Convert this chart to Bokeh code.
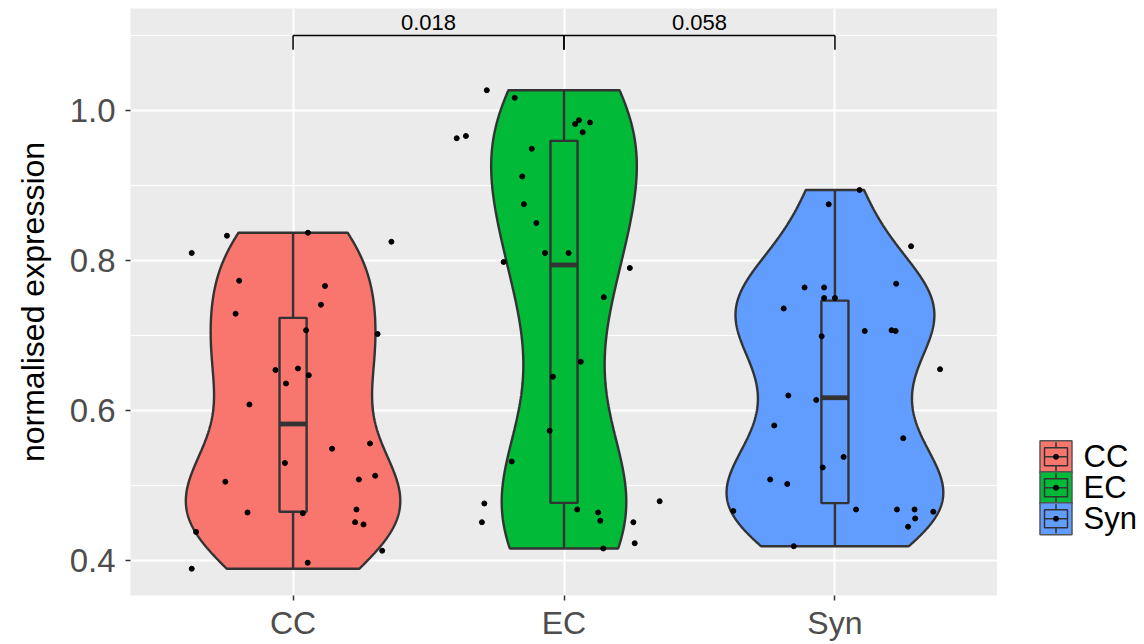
import numpy as np
from bokeh.plotting import figure
from bokeh.models import Range1d, FixedTicker, PrintfTickFormatter
from bokeh.layouts import row
from bokeh.embed import file_html
from bokeh.resources import INLINE
from bokeh.core.properties import value

# ---------------- data ----------------
categories = ["CC", "EC", "Syn"]
colors = ["#F8766D", "#00BA38", "#619CFF"]

cc_values = [0.810, 0.833, 0.837, 0.825, 0.773, 0.766, 0.741, 0.729, 0.707, 0.702,
             0.654, 0.656, 0.647, 0.636, 0.608, 0.549, 0.556, 0.530, 0.505, 0.508,
             0.513, 0.464, 0.463, 0.468, 0.451, 0.448, 0.438, 0.413, 0.397, 0.389]
cc_jitter = [-0.374, -0.244, 0.055, 0.363, -0.199, 0.118, 0.103, -0.212, 0.048, 0.312,
             -0.065, 0.018, 0.058, -0.026, -0.161, 0.144, 0.284, -0.030, -0.250, 0.243,
             0.303, -0.168, 0.036, 0.234, 0.229, 0.260, -0.358, 0.329, 0.054, -0.374]

ec_values = [1.027, 1.017, 0.963, 0.966, 0.949, 0.912, 0.875, 0.850, 0.810, 0.810,
             0.798, 0.982, 0.987, 0.984, 0.971, 0.790, 0.751, 0.645, 0.573, 0.532,
             0.476, 0.451, 0.665, 0.468, 0.464, 0.453, 0.416, 0.451, 0.423, 0.479]
ec_jitter = [-0.285, -0.182, -0.396, -0.362, -0.119, -0.154, -0.148, -0.102, -0.070, 0.017,
             -0.223, 0.041, 0.055, 0.096, 0.069, 0.243, 0.147, -0.041, -0.053, -0.193,
             -0.294, -0.303, 0.062, 0.049, 0.126, 0.134, 0.145, 0.256, 0.261, 0.353]

syn_values = [0.894, 0.875, 0.819, 0.764, 0.764, 0.769, 0.750, 0.750, 0.736, 0.699,
              0.706, 0.707, 0.706, 0.655, 0.620, 0.614, 0.580, 0.563, 0.538, 0.524,
              0.508, 0.502, 0.466, 0.468, 0.468, 0.468, 0.456, 0.445, 0.465, 0.419]
syn_jitter = [0.091, -0.023, 0.281, -0.112, -0.040, 0.226, -0.040, 0.000, -0.189, -0.049,
              0.110, 0.209, 0.224, 0.388, -0.172, -0.069, -0.224, 0.252, 0.032, -0.045,
              -0.239, -0.176, -0.375, 0.078, 0.229, 0.294, 0.296, 0.270, 0.363, -0.152]

comparisons = [("CC", "EC"), ("EC", "Syn")]
pvalue_labels = ["0.018", "0.058"]

y_ticks = [0.4, 0.6, 0.8, 1.0]
y_minor_ticks = [0.3, 0.5, 0.7, 0.9, 1.1]
y_label = "normalised expression"

group_values = [cc_values, ec_values, syn_values]
group_jitter = [cc_jitter, ec_jitter, syn_jitter]

# ---------------- style ----------------
FONT = "Liberation Sans"
OUTLINE = "#333333"
LINE_W = 2.4
VIOLIN_WIDTH = 0.8
BOX_WIDTH = 0.1
BRACKET_Y = 1.1
BRACKET_TIP = 0.019
LABEL_GAP = 0.0175

# ---------------- stats ----------------
def nrd0(x):
    x = np.asarray(x)
    hi = np.std(x, ddof=1)
    iqr = np.percentile(x, 75) - np.percentile(x, 25)
    lo = min(hi, iqr / 1.34)
    return 0.9 * lo * len(x) ** (-0.2)

dens = []
for vals in group_values:
    v = np.asarray(vals)
    bw = nrd0(v)
    grid = np.linspace(v.min(), v.max(), 512)
    d = np.exp(-0.5 * ((grid[:, None] - v[None, :]) / bw) ** 2).sum(axis=1) / (len(v) * bw * np.sqrt(2 * np.pi))
    dens.append((grid, d))
dmax = max(d.max() for _, d in dens)

p = figure(width=997, height=644, x_range=Range1d(0.4, 3.6), y_range=Range1d(0.3533, 1.136),
           output_backend="svg", toolbar_location=None,
           min_border_left=130, min_border_right=0, min_border_top=8, min_border_bottom=49)
p.background_fill_color = "#EBEBEB"
p.border_fill_color = "white"
p.outline_line_color = None

xs, ys = [], []
for i, (grid, d) in enumerate(dens):
    c = i + 1
    hw = d / dmax * VIOLIN_WIDTH / 2
    xs.append(list(c - hw) + list((c + hw)[::-1]))
    ys.append(list(grid) + list(grid[::-1]))
p.patches(xs, ys, fill_color=colors, line_color=OUTLINE, line_width=LINE_W)

for i, vals in enumerate(group_values):
    c = i + 1
    v = np.asarray(vals)
    q1, med, q3 = np.percentile(v, [25, 50, 75])
    iqr = q3 - q1
    upper = v[v <= q3 + 1.5 * iqr].max()
    lower = v[v >= q1 - 1.5 * iqr].min()
    p.segment(x0=[c, c], y0=[q3, q1], x1=[c, c], y1=[upper, lower], line_color=OUTLINE, line_width=LINE_W)
    p.quad(left=[c - BOX_WIDTH / 2], right=[c + BOX_WIDTH / 2], bottom=[q1], top=[q3],
           fill_color=colors[i], line_color=OUTLINE, line_width=LINE_W)
    p.segment(x0=[c - BOX_WIDTH / 2], y0=[med], x1=[c + BOX_WIDTH / 2], y1=[med],
              line_color=OUTLINE, line_width=4.8)

for i, (vals, jit) in enumerate(zip(group_values, group_jitter)):
    p.scatter(x=[i + 1 + j for j in jit], y=vals, size=5, color="black")

# significance brackets
for (a, b), lab in zip(comparisons, pvalue_labels):
    xa = categories.index(a) + 1
    xb = categories.index(b) + 1
    p.segment(x0=[xa, xa, xb], y0=[BRACKET_Y, BRACKET_Y, BRACKET_Y],
              x1=[xb, xa, xb], y1=[BRACKET_Y, BRACKET_Y - BRACKET_TIP, BRACKET_Y - BRACKET_TIP],
              line_color="black", line_width=1.5)
    p.text(x=[(xa + xb) / 2], y=[BRACKET_Y + LABEL_GAP], text=[lab], text_align="center",
           text_baseline="alphabetic", text_font=value(FONT),
           text_font_size="22px", text_color="black")

# axes
p.xaxis.ticker = FixedTicker(ticks=[i + 1 for i in range(len(categories))])
p.xaxis.major_label_overrides = {i + 1: c for i, c in enumerate(categories)}
p.yaxis.ticker = FixedTicker(ticks=y_ticks, minor_ticks=y_minor_ticks)
p.yaxis.formatter = PrintfTickFormatter(format="%.1f")
for ax in (p.xaxis, p.yaxis):
    ax.axis_line_color = None
    ax.major_tick_line_color = OUTLINE
    ax.major_tick_line_width = 1.5
    ax.major_tick_out = 5
    ax.major_tick_in = 0
    ax.minor_tick_line_color = None
    ax.major_label_text_font = FONT
    ax.major_label_text_color = "#4D4D4D"
p.xaxis.major_label_text_font_size = "32px"
p.xaxis.major_label_standoff = 4
p.yaxis.major_label_text_font_size = "33px"
p.yaxis.major_label_standoff = 10
p.yaxis.axis_label = y_label
p.yaxis.axis_label_text_font = FONT
p.yaxis.axis_label_text_font_size = "32px"
p.yaxis.axis_label_text_font_style = "normal"
p.yaxis.axis_label_text_color = "black"
p.yaxis.axis_label_standoff = 16

p.xgrid.ticker = p.xaxis.ticker
p.xgrid.grid_line_color = "white"
p.xgrid.grid_line_width = 2
p.ygrid.grid_line_color = "white"
p.ygrid.grid_line_width = 2
p.ygrid.minor_grid_line_color = "white"
p.ygrid.minor_grid_line_width = 1.2

# ---------------- legend (separate panel) ----------------
LW, LH = 147, 644
leg = figure(width=LW, height=LH, x_range=Range1d(0, LW), y_range=Range1d(LH, 0),
             output_backend="svg", toolbar_location=None, x_axis_type=None, y_axis_type=None,
             min_border=0)
leg.outline_line_color = None
leg.xgrid.visible = False
leg.ygrid.visible = False
leg.background_fill_color = "white"
leg.border_fill_color = "white"

KEY_X, KEY_Y0, KEY_STEP, KEY = 58.5, 491.8, 34, 32
for i, cat in enumerate(categories):
    cy = KEY_Y0 + i * KEY_STEP
    leg.rect(x=[KEY_X], y=[cy], width=KEY, height=KEY, width_units="screen", height_units="screen",
             fill_color=colors[i], line_color="#555555", line_width=1.5)
    leg.segment(x0=[KEY_X], y0=[cy - KEY / 2], x1=[KEY_X], y1=[cy + KEY / 2],
                line_color=OUTLINE, line_width=1.5)
    leg.rect(x=[KEY_X], y=[cy], width=23, height=18, width_units="screen", height_units="screen",
             fill_color=colors[i], line_color=OUTLINE, line_width=1.5)
    leg.segment(x0=[KEY_X - 11.5], y0=[cy], x1=[KEY_X + 11.5], y1=[cy],
                line_color=OUTLINE, line_width=1.5)
    leg.scatter(x=[KEY_X], y=[cy], size=5, color="black")
    leg.text(x=[86], y=[cy], text=[cat], text_align="left", text_baseline="middle",
             text_font=value(FONT), text_font_size="31px", text_color="black")

layout = row(p, leg)
open("out.html", "w").write(file_html(layout, INLINE))
